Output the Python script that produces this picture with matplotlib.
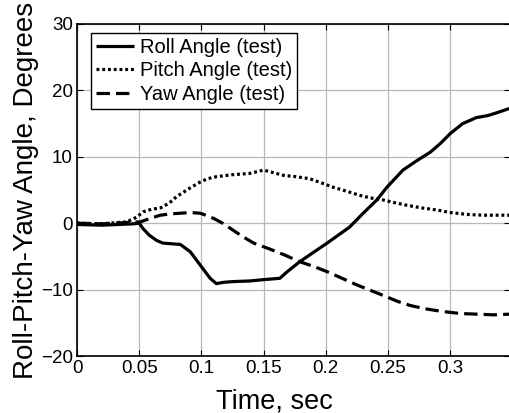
import matplotlib
matplotlib.use("Agg")
import matplotlib.pyplot as plt

plt.rcParams['font.family'] = ['Liberation Sans', 'DejaVu Sans']

t_roll = [0.0, 0.02, 0.045, 0.05, 0.053, 0.058, 0.064, 0.069, 0.076, 0.083, 0.091, 0.099, 0.107,
          0.112, 0.118, 0.125, 0.139, 0.150, 0.163, 0.169, 0.179, 0.190, 0.201, 0.210, 0.219,
          0.230, 0.241, 0.249, 0.262, 0.273, 0.284, 0.292, 0.300, 0.310, 0.321, 0.330, 0.337, 0.348]
roll = [-0.2, -0.3, -0.1, 0.0, -0.8, -1.8, -2.6, -3.0, -3.1, -3.2, -4.3, -6.3, -8.3,
        -9.1, -8.9, -8.8, -8.7, -8.5, -8.3, -7.3, -5.8, -4.4, -3.0, -1.8, -0.6,
        1.5, 3.5, 5.4, 8.0, 9.4, 10.7, 12.0, 13.5, 15.0, 15.9, 16.2, 16.6, 17.3]

t_pitch = [0.0, 0.02, 0.04, 0.048, 0.053, 0.06, 0.067, 0.074, 0.08, 0.09, 0.099, 0.105, 0.112,
           0.125, 0.139, 0.15, 0.158, 0.166, 0.176, 0.187, 0.196, 0.206, 0.217, 0.227, 0.236,
           0.246, 0.255, 0.265, 0.277, 0.289, 0.300, 0.315, 0.327, 0.348]
pitch = [0.0, -0.1, 0.2, 0.9, 1.7, 2.1, 2.3, 3.0, 4.0, 5.2, 6.2, 6.7, 7.0,
         7.3, 7.5, 8.0, 7.6, 7.2, 7.0, 6.7, 6.1, 5.4, 4.8, 4.2, 3.8,
         3.5, 3.1, 2.7, 2.3, 2.0, 1.6, 1.3, 1.2, 1.2]

t_yaw = [0.0, 0.02, 0.04, 0.051, 0.06, 0.067, 0.075, 0.083, 0.091, 0.099, 0.105, 0.110, 0.118,
         0.125, 0.133, 0.142, 0.155, 0.167, 0.179, 0.190, 0.201, 0.213, 0.225, 0.237, 0.249,
         0.258, 0.268, 0.280, 0.294, 0.308, 0.321, 0.335, 0.348]
yaw = [0.0, -0.1, 0.1, 0.2, 0.8, 1.2, 1.4, 1.5, 1.6, 1.5, 1.1, 0.7, -0.1,
       -1.0, -2.0, -3.0, -3.9, -4.8, -5.8, -6.5, -7.3, -8.3, -9.3, -10.2, -11.1,
       -11.8, -12.4, -12.9, -13.3, -13.6, -13.7, -13.8, -13.7]

labels = ['Roll Angle (test)', 'Pitch Angle (test)', 'Yaw Angle (test)']
xticks = [0, 0.05, 0.1, 0.15, 0.2, 0.25, 0.3]
xticklabels = ['0', '0.05', '0.1', '0.15', '0.2', '0.25', '0.3']
yticks = [-20, -10, 0, 10, 20, 30]

fig = plt.figure(figsize=(5.10, 4.13), dpi=100)
ax = fig.add_axes([0.151, 0.138, 0.849, 0.804])

lw = 2.3
ax.plot(t_roll, roll, color='black', lw=lw, solid_capstyle='butt', label=labels[0])
ax.plot(t_pitch, pitch, color='black', lw=lw, dashes=(0.9, 0.9), dash_capstyle='butt', label=labels[1])
ax.plot(t_yaw, yaw, color='black', lw=lw, dashes=(4.2, 1.9), dash_capstyle='butt', label=labels[2])

ax.set_xlim(0, 0.348)
ax.set_ylim(-20, 30)
ax.set_xticks(xticks)
ax.set_xticklabels(xticklabels)
ax.set_yticks(yticks)
ax.grid(True, color='#b8b8b8', lw=0.9)
ax.set_axisbelow(True)
ax.tick_params(direction='in', length=4, width=0.8, labelsize=13.5, top=True, right=True, pad=3)
for s in ax.spines.values():
    s.set_linewidth(1.2)

ax.set_xlabel('Time, sec', fontsize=19.5, labelpad=0)
ax.xaxis.set_label_coords(0.455, -0.097, transform=ax.transAxes)
ax.xaxis.label.set_va('top')
ax.set_ylabel('Roll-Pitch-Yaw Angle, Degrees', fontsize=20, labelpad=0)
ax.yaxis.set_label_coords(-0.088, 0.5)

leg = ax.legend(loc='upper left', bbox_to_anchor=(0.032, 0.973), fontsize=14.5, frameon=True,
                fancybox=False, edgecolor='black', framealpha=1, borderpad=0.25,
                handlelength=1.9, handletextpad=0.3, labelspacing=0.22, borderaxespad=0)
leg.get_frame().set_linewidth(1.0)

fig.savefig('out.png', dpi=100)
